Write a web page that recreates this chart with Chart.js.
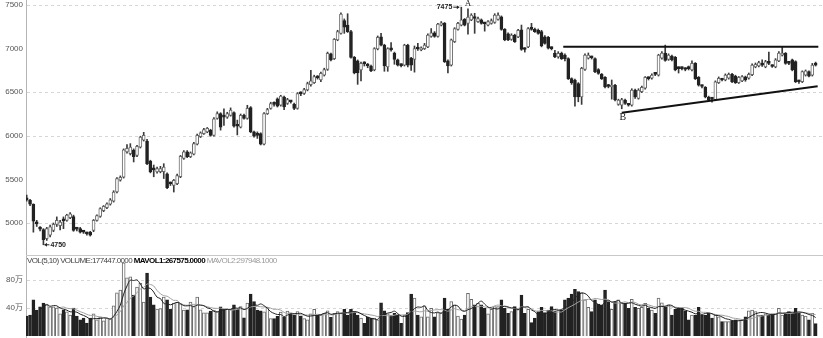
<!DOCTYPE html>
<html>
<head>
<meta charset="utf-8">
<script src="https://cdn.jsdelivr.net/npm/chart.js@4.4.1/dist/chart.umd.min.js"></script>
<style>
  html, body { margin: 0; padding: 0; background: #fff; }
  #wrap { position: relative; width: 823px; height: 338px; overflow: hidden; }
  #precoBox { position: absolute; left: 0; top: 0; width: 823px; height: 255px; }
  #volBox { position: absolute; left: 0; top: 255px; width: 823px; height: 83px; }
  #separador { position: absolute; left: 26px; top: 255px; width: 797px; height: 1px; background: #c8c8c8; }
  #cabecalho { position: absolute; left: 27px; top: 255px; font: 8px "Liberation Sans", sans-serif; letter-spacing: -0.6px; color: #444; white-space: nowrap; line-height: 11px; }
  #cabecalho b { color: #000; }
  #cabecalho .cinza { color: #9a9a9a; }
</style>
</head>
<body>
<div id="wrap">
  <div id="precoBox"><canvas id="preco" width="823" height="255"></canvas></div>
  <div id="volBox"><canvas id="volume" width="823" height="83"></canvas></div>
  <div id="separador"></div>
  <div id="cabecalho">VOL(5,10) VOLUME:177447.0000 <b>MAVOL1:267575.0000</b> <span class="cinza">MAVOL2:297948.1000</span></div>
</div>
<script>
// dados (um candle por posição)
const aberturas = [
  5275,5260,5215,5010,4940,4925,4820,4860,4915,4985, 4970,5030,5030,5060,5075,4935,4935,4900,4880,4895,
  4915,5030,5075,5140,5175,5215,5250,5355,5490,5525, 5815,5795,5835,5775,5870,5950,5940,5710,5615,5585,
  5590,5590,5565,5455,5430,5450,5530,5740,5815,5760, 5790,5905,5990,6025,6045,6065,6005,6200,6255,6220,
  6215,6235,6265,6115,6100,6235,6200,6325,6045,6010, 6025,5905,6255,6315,6365,6425,6350,6445,6370,6395,
  6360,6315,6485,6485,6525,6585,6610,6670,6640,6695, 6760,6940,6885,7100,7175,7320,7270,7195,6900,6860,
  6755,6830,6805,6800,6755,6995,7135,7040,6790,7000, 6950,6870,6810,6810,7040,6890,6875,7000,6985,7000,
  7020,7140,7180,7140,7270,7290,6860,6810,7080,7220, 7270,7335,7290,7330,7350,7310,7330,7290,7270,7290,
  7300,7335,7365,7220,7170,7105,7155,7135,7215,6995, 7020,7225,7220,7210,7195,7135,7130,7005,6950,6905,
  6945,6925,6885,6655,6640,6600,6445,6760,6890,6900, 6885,6760,6705,6670,6570,6560,6580,6360,6350,6410,
  6355,6350,6525,6430,6505,6545,6660,6660,6710,6695, 6890,6950,6875,6915,6900,6775,6775,6765,6775,6755,
  6830,6670,6570,6555,6445,6425,6415,6610,6645,6640, 6660,6705,6685,6610,6630,6675,6660,6700,6790,6800,
  6815,6790,6835,6800,6790,6860,6925,6945,6835,6870, 6850,6625,6620,6695,6735,6695,6815
];
const maximas = [
  5320,5270,5220,5030,4960,4935,4950,4975,5000,5070, 5030,5070,5100,5120,5090,4950,4950,4915,4895,4905,
  5040,5095,5175,5200,5230,5280,5370,5520,5540,5850, 5900,5910,5850,5890,5995,6040,5960,5720,5665,5640,
  5650,5680,5575,5470,5500,5560,5775,5830,5830,5815, 5925,6020,6045,6085,6095,6075,6210,6275,6265,6310,
  6270,6320,6275,6180,6250,6250,6350,6335,6055,6045, 6035,6265,6315,6385,6390,6435,6465,6455,6430,6405,
  6375,6495,6505,6545,6615,6750,6695,6690,6730,6775, 6960,6950,7115,7210,7410,7340,7400,7210,6910,6870,
  6845,6850,6830,6810,7010,7145,7175,7050,7010,7070, 6960,6880,6825,7050,7050,6900,7030,7060,7020,7060,
  7170,7230,7195,7290,7310,7300,6870,7110,7240,7300, 7475,7345,7455,7400,7405,7360,7340,7300,7320,7340,
  7400,7410,7375,7230,7180,7170,7165,7220,7270,7010, 7240,7290,7235,7225,7210,7150,7140,7020,6980,6965,
  6960,6940,6895,6665,6650,6610,6785,6940,6950,6915, 6895,6770,6715,6680,6590,6640,6590,6420,6430,6420,
  6365,6540,6535,6540,6570,6680,6675,6710,6720,6935, 6965,7040,6940,6925,6910,6790,6790,6780,6800,6860,
  6840,6680,6585,6565,6455,6440,6630,6675,6660,6710, 6720,6715,6695,6680,6690,6685,6720,6825,6835,6855,
  6870,6865,6960,6815,6885,6965,7020,6955,6850,6880, 6860,6640,6745,6755,6745,6830,6845
];
const minimas = [
  5250,5200,4895,4960,4910,4750,4800,4840,4900,4960, 4920,4935,5020,5050,4905,4910,4885,4880,4860,4850,
  4900,5020,5065,5130,5165,5205,5240,5345,5480,5515, 5800,5780,5700,5760,5860,5940,5670,5575,5530,5570,
  5575,5510,5395,5430,5355,5440,5520,5730,5750,5750, 5780,5895,5980,6015,6035,5995,5995,6190,6065,6120,
  6200,6225,6100,6010,6090,6190,6190,6035,5985,5970, 5895,5895,6245,6305,6340,6330,6340,6300,6360,6375,
  6300,6305,6460,6475,6515,6570,6600,6650,6620,6685, 6750,6860,6875,7090,7165,7175,7185,6890,6710,6590,
  6630,6800,6780,6735,6745,6985,7030,6740,6740,6970, 6820,6800,6790,6800,6790,6750,6730,6980,6975,6990,
  7010,7130,7130,7130,7260,6840,6720,6800,7070,7210, 7260,7260,7165,7320,7175,7300,7280,7200,7260,7280,
  7290,7325,7210,7090,7090,7095,7070,7125,6980,6960, 7010,7210,7185,7165,7020,7050,6995,6985,6895,6890,
  6875,6860,6645,6590,6340,6390,6360,6750,6880,6880, 6725,6705,6645,6550,6550,6420,6400,6350,6310,6360,
  6340,6340,6430,6420,6495,6535,6640,6650,6690,6685, 6880,6855,6865,6860,6745,6720,6755,6745,6755,6745,
  6645,6570,6550,6435,6405,6385,6405,6600,6630,6630, 6650,6610,6600,6600,6620,6625,6650,6690,6780,6790,
  6795,6780,6815,6785,6780,6850,6915,6820,6815,6745, 6610,6600,6610,6685,6675,6685,6800
];
const fechamentos = [
  5265,5215,5020,4990,4930,4810,4935,4955,4985,5030, 5010,5025,5090,5105,4915,4930,4895,4895,4875,4860,
  5030,5085,5165,5190,5220,5265,5355,5510,5525,5840, 5855,5870,5760,5880,5985,6005,5680,5585,5610,5625,
  5625,5640,5405,5450,5490,5545,5765,5815,5760,5805, 5910,6005,6035,6070,6085,6005,6195,6255,6100,6215,
  6255,6295,6110,6110,6235,6200,6315,6045,5995,6005, 5905,6255,6300,6370,6360,6340,6455,6330,6415,6390,
  6315,6485,6480,6530,6600,6630,6680,6665,6715,6760, 6945,6870,7105,7195,7395,7245,7195,6900,6720,6720,
  6830,6825,6800,6745,7000,7130,7040,6800,7000,6985, 6875,6810,6805,7040,6810,6810,7000,6995,7010,7040,
  7155,7180,7140,7280,7295,6850,6800,7100,7230,7290, 7330,7270,7360,7385,7345,7345,7290,7285,7310,7320,
  7385,7385,7220,7100,7100,7155,7080,7210,6990,6990, 7230,7220,7195,7175,7030,7060,7005,7000,6905,6945,
  6885,6885,6655,6610,6445,6445,6775,6925,6925,6895, 6735,6715,6655,6560,6565,6580,6410,6410,6415,6370,
  6350,6525,6445,6525,6555,6670,6655,6695,6705,6925, 6950,6865,6925,6870,6755,6770,6770,6760,6770,6830,
  6655,6580,6565,6445,6415,6420,6620,6660,6640,6695, 6705,6620,6610,6670,6680,6640,6705,6810,6820,6840,
  6810,6850,6830,6795,6870,6950,6950,6830,6830,6755, 6620,6620,6735,6745,6685,6810,6810
];
// volume em milhares de ações
const volumes = [
  285,300,515,370,415,470,455,415,415,400, 315,370,345,300,400,285,230,255,185,255,
  315,230,270,215,255,245,430,615,655,1045, 830,845,585,700,755,485,900,555,445,385,
  390,555,515,385,470,480,460,370,375,485, 420,555,375,330,330,355,370,345,415,385,
  385,380,445,385,420,260,470,600,490,370, 360,345,410,250,250,280,340,270,355,330,
  300,350,285,250,230,315,380,300,300,325, 360,265,325,350,325,380,300,380,350,300,
  255,180,270,255,255,230,475,360,315,300, 325,300,180,300,335,600,540,300,275,430,
  275,395,275,335,335,540,380,490,445,285, 240,300,610,525,445,465,445,395,315,380,
  420,420,515,395,325,350,420,380,585,325, 380,190,255,350,410,335,370,420,360,370,
  370,515,540,600,665,635,620,515,410,350, 515,455,445,655,490,380,490,515,475,465,
  395,525,410,395,410,465,395,370,325,540, 475,420,445,300,380,410,395,360,230,300,
  300,410,300,300,325,255,300,275,205,205, 205,220,230,230,230,275,360,370,350,300,
  300,315,300,315,315,395,300,325,350,325, 395,325,300,285,230,325,177.447
];
const precoTicks = [5000, 5500, 6000, 6500, 7000, 7500];
const precoGrade = [5000, 6000, 6500, 7500]; // linhas tracejadas que aparecem no original
const volTicks = [400, 800];
// linhas de tendência desenhadas no gráfico (índice do candle, preço)
const linhaResistencia = [[160.5, 7020], [236.8, 7020]];
const linhaSuporte = [[178, 6263], [236.6, 6569]];

const fonteEixo = { family: '"Liberation Sans", "Noto Sans CJK SC", sans-serif', size: 8 };

function mediaMovel(arr, n) {
    return arr.map((_, i) => {
        if (i < n - 1) return null;
        let s = 0;
        for (let k = i - n + 1; k <= i; k++) s += arr[k];
        return s / n;
    });
}

// eixo y com largura fixa e sem folga extra em cima/embaixo
function eixoY(min, max, ticks, rotulo) {
    return {
        position: 'left',
        min, max,
        afterBuildTicks: s => { s.ticks = ticks.map(v => ({ value: v })); },
        afterFit: s => { s.width = 26; s.paddingTop = 0; s.paddingBottom = 0; },
        border: { display: true, color: '#b4b4b4' },
        grid: { display: false, drawTicks: false, tickLength: 0 },
        ticks: { font: fonteEixo, color: '#555', padding: 3, callback: rotulo }
    };
}

// eixo x linear, sem o offset que o gráfico de barras coloca por padrão
function eixoX() {
    return { type: 'linear', min: -0.21, max: 238.2, offset: false, grace: 0, display: false };
}

// grade tracejada só nos valores pedidos
const gradeTracejada = {
    id: 'gradeTracejada',
    beforeDatasetsDraw(chart, args, opts) {
        const { ctx, chartArea, scales: { y } } = chart;
        ctx.save();
        ctx.strokeStyle = '#d6d6d6';
        ctx.lineWidth = 1;
        ctx.setLineDash([3, 3]);
        (opts.valores || []).forEach(v => {
            const py = Math.round(y.getPixelForValue(v)) + 0.5;
            ctx.beginPath();
            ctx.moveTo(chartArea.left + 1, py);
            ctx.lineTo(chartArea.right, py);
            ctx.stroke();
        });
        ctx.restore();
    }
};

const indices = fechamentos.map((_, i) => i);
const sobe = indices.map(i => fechamentos[i] >= aberturas[i]);
const corFundo = indices.map(i => sobe[i] ? '#ffffff' : '#222222');
const corBorda = indices.map(i => sobe[i] ? '#6a6a6a' : '#222222');

function seta(ctx, x1, y1, x2, y2) {
    const d = x2 > x1 ? 1 : -1;
    ctx.beginPath();
    ctx.moveTo(x1, y1); ctx.lineTo(x2, y2);
    ctx.stroke();
    ctx.beginPath();
    ctx.moveTo(x2, y2); ctx.lineTo(x2 - 2.5 * d, y2 - 2); ctx.lineTo(x2 - 2.5 * d, y2 + 2);
    ctx.closePath(); ctx.fill();
}

const anotacoes = {
    id: 'anotacoes',
    afterDatasetsDraw(chart) {
        const { ctx, scales: { x, y } } = chart;
        ctx.save();
        ctx.fillStyle = '#222'; ctx.strokeStyle = '#222'; ctx.lineWidth = 1;

        // máxima (A)
        const iMax = 130;
        const xm = x.getPixelForValue(iMax), ym = y.getPixelForValue(maximas[iMax]);
        ctx.font = 'bold 7px "Liberation Sans"';
        ctx.textAlign = 'right'; ctx.textBaseline = 'middle';
        ctx.fillText(String(maximas[iMax]), xm - 9, ym);
        seta(ctx, xm - 8, ym, xm - 2, ym);

        ctx.font = '9px "Liberation Serif"';
        ctx.textAlign = 'center'; ctx.textBaseline = 'bottom';
        ctx.fillText('A', x.getPixelForValue(132), y.getPixelForValue(maximas[132]) - 0.5);

        // mínima da série
        const iMin = 5;
        const xn = x.getPixelForValue(iMin), yn = y.getPixelForValue(minimas[iMin]);
        ctx.font = 'bold 7px "Liberation Sans"';
        ctx.textAlign = 'left'; ctx.textBaseline = 'middle';
        seta(ctx, xn + 6, yn, xn + 1, yn);
        ctx.fillText(String(minimas[iMin]), xn + 7, yn);

        // B
        ctx.font = '10px "Liberation Serif"';
        ctx.textAlign = 'center'; ctx.textBaseline = 'top';
        ctx.fillText('B', x.getPixelForValue(178) + 1, y.getPixelForValue(minimas[178]) + 4);
        ctx.restore();
    }
};

new Chart(document.getElementById('preco'), {
    type: 'bar',
    data: {
        datasets: [
            {
                type: 'line', order: 0,
                data: linhaResistencia.map(p => ({ x: p[0], y: p[1] })),
                borderColor: '#111', borderWidth: 2, pointRadius: 0
            },
            {
                type: 'line', order: 0,
                data: linhaSuporte.map(p => ({ x: p[0], y: p[1] })),
                borderColor: '#111', borderWidth: 2, pointRadius: 0
            },
            {
                order: 1, grouped: false,
                data: indices.map(i => ({ x: i, y: [aberturas[i], fechamentos[i]] })),
                backgroundColor: corFundo, borderColor: corBorda,
                borderWidth: 1, borderSkipped: false, barThickness: 3, minBarLength: 2
            },
            {
                order: 2, grouped: false,
                data: indices.map(i => ({ x: i, y: [minimas[i], maximas[i]] })),
                backgroundColor: '#3a3a3a', borderWidth: 0, barThickness: 1
            }
        ]
    },
    options: {
        responsive: false, devicePixelRatio: 1, animation: false,
        layout: { padding: 0 },
        plugins: {
            legend: { display: false }, tooltip: { enabled: false },
            gradeTracejada: { valores: precoGrade }
        },
        scales: {
            x: eixoX(),
            y: eixoY(4633, 7557.3, precoTicks, v => String(v))
        }
    },
    plugins: [gradeTracejada, anotacoes]
});

new Chart(document.getElementById('volume'), {
    type: 'bar',
    data: {
        datasets: [
            {
                type: 'line', order: 0,
                data: mediaMovel(volumes, 5).map((v, i) => ({ x: i, y: v })),
                borderColor: '#222', borderWidth: 1, pointRadius: 0, tension: 0.35
            },
            {
                type: 'line', order: 1,
                data: mediaMovel(volumes, 10).map((v, i) => ({ x: i, y: v })),
                borderColor: '#a0a0a0', borderWidth: 1, pointRadius: 0, tension: 0.35
            },
            {
                order: 2, grouped: false,
                data: indices.map(i => ({ x: i, y: volumes[i] })),
                backgroundColor: corFundo, borderColor: corBorda,
                borderWidth: 1, barThickness: 3
            }
        ]
    },
    options: {
        responsive: false, devicePixelRatio: 1, animation: false,
        layout: { padding: 0 },
        plugins: {
            legend: { display: false }, tooltip: { enabled: false },
            gradeTracejada: { valores: volTicks }
        },
        scales: {
            x: eixoX(),
            y: eixoY(-28.6, 1157, volTicks, v => (v / 10) + '万')
        }
    },
    plugins: [gradeTracejada]
});
</script>
</body>
</html>
